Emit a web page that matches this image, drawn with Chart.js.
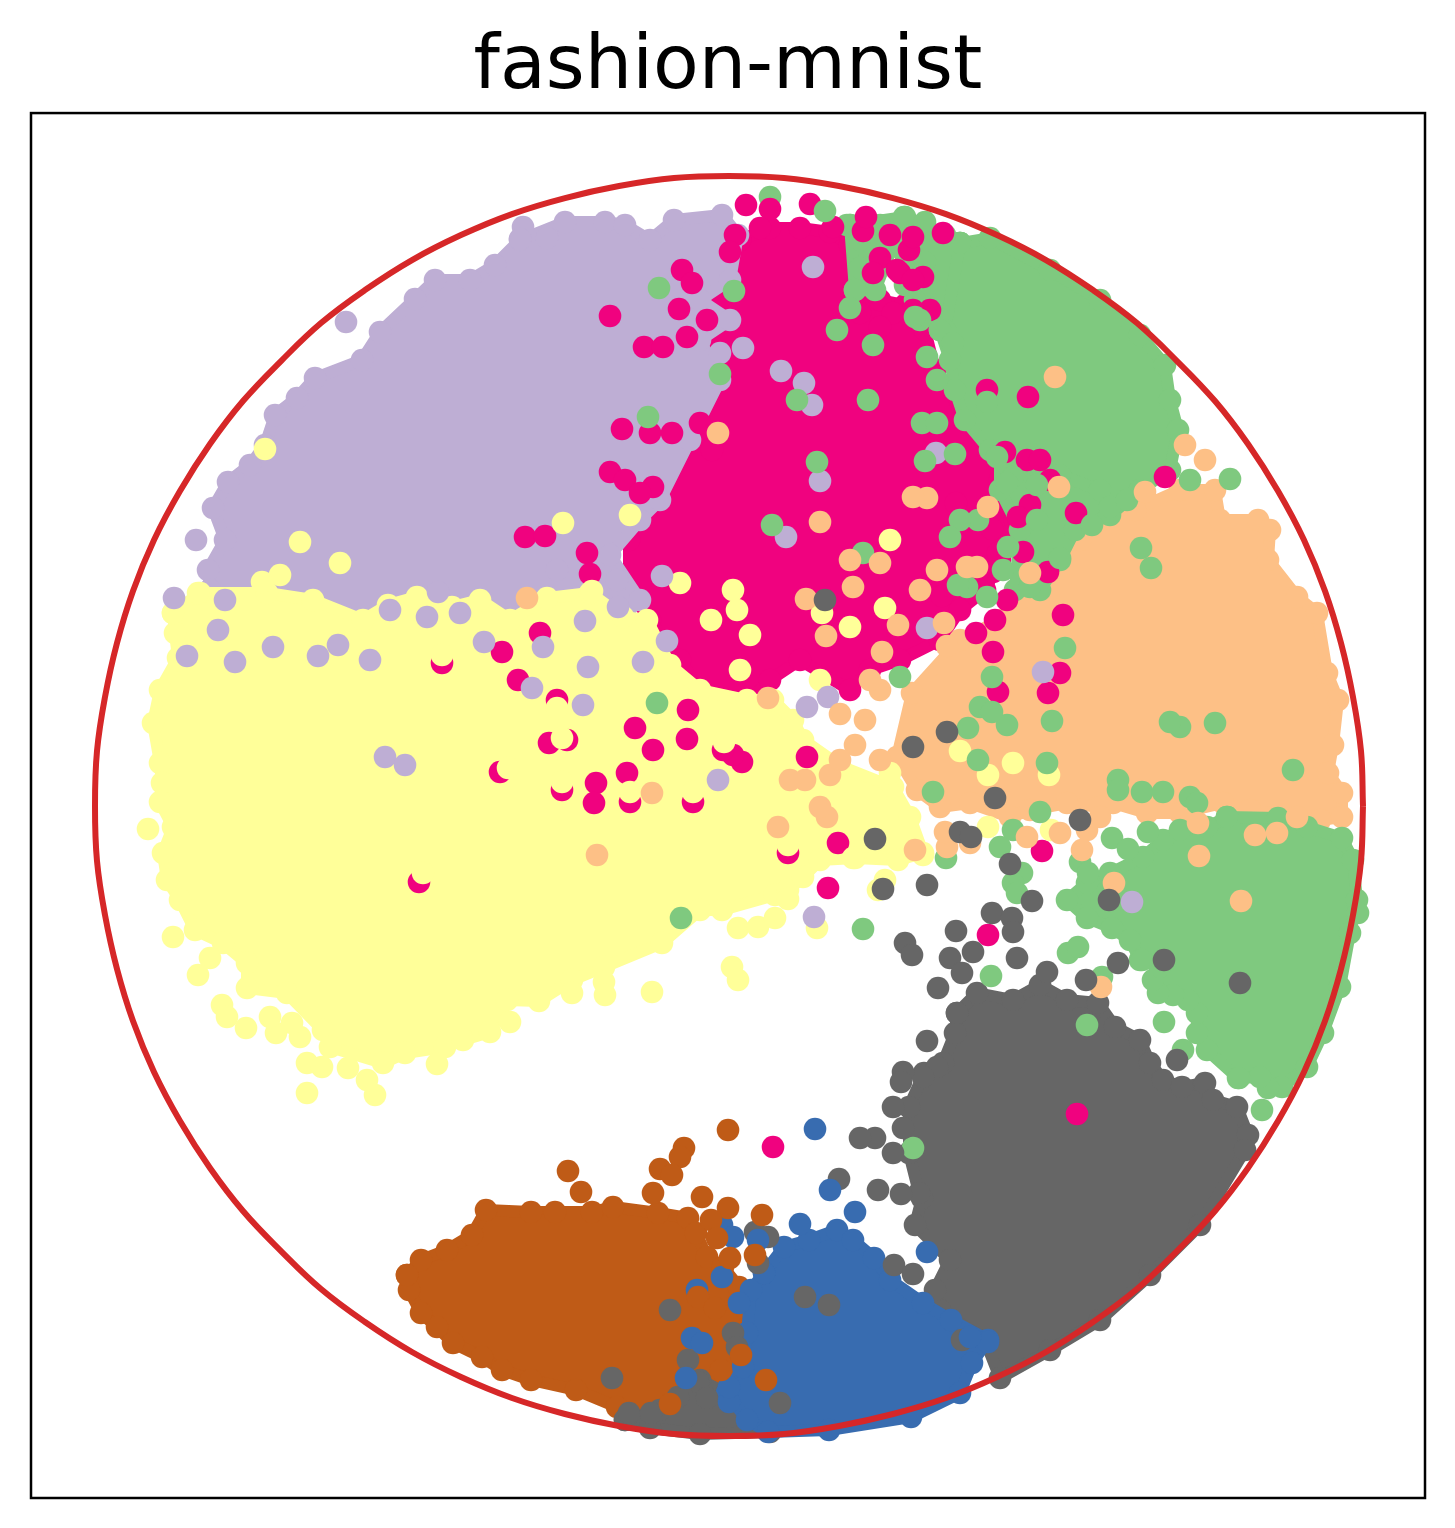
<!DOCTYPE html>
<html>
<head>
<meta charset="utf-8">
<title>fashion-mnist</title>
<script src="https://cdn.jsdelivr.net/npm/chart.js@4"></script>
<style>
  html, body { margin: 0; padding: 0; background: #fff; }
  canvas { display: block; }
</style>
</head>
<body>
<canvas id="chart" width="1455" height="1528"></canvas>
<script>
const chartTitle = 'fashion-mnist';

// outlines of the dense blobs, read around each cluster's edge
const magentaCore = [[11,566],[41,578],[71,578],[101,574],[121,561],[131,526],[151,506],[176,501],[196,476],[206,436],[231,406],[256,366],[271,326],[286,286],[271,246],[256,216],[231,196],[211,166],[171,146],[141,136],[121,116],[71,146],[41,126],[21,106],[-29,116],[-49,146],[-79,186],[-100,216],[-100,266],[-110,306],[-100,336],[-60,366],[-60,406],[-60,456],[-40,506],[-4,536]];
const purpleCore = [[-519,216],[-521,236],[-504,266],[-516,298],[-501,324],[-479,341],[-464,361],[-454,391],[-432,408],[-414,428],[-367,446],[-349,474],[-314,507],[-294,526],[-259,526],[-234,541],[-209,566],[-164,584],[-124,584],[-104,581],[-79,566],[-55,586],[-7,591],[9,571],[1,526],[-29,506],[1,486],[-29,466],[-9,426],[-39,366],[-69,306],[-89,286],[-119,251],[-89,206],[-129,166],[-189,146],[-269,166],[-349,166],[-429,166],[-499,176]];
const orangeCore = [[406,296],[451,316],[486,316],[491,286],[529,286],[541,276],[539,246],[568,209],[588,193],[598,133],[609,106],[604,61],[599,33],[613,13],[613,-11],[591,-14],[521,-4],[494,3],[451,-7],[418,-7],[384,3],[371,-1],[338,3],[301,-4],[281,-11],[241,3],[211,-1],[188,16],[168,49],[183,113],[231,166],[271,186],[311,216],[351,266],[371,286]];
const greenTopCore = [[231,563],[261,568],[321,536],[371,506],[411,471],[436,441],[441,406],[449,376],[441,336],[411,316],[371,311],[331,326],[311,346],[261,356],[236,386],[226,416],[221,446],[211,476],[196,496],[211,536]];
const greenCrownCore = [[121,581],[176,589],[231,563],[216,476],[186,506],[166,566],[146,516],[126,516]];
const greenLowerCore = [[271,351],[331,331],[371,316],[411,316],[381,291],[346,276],[331,246],[311,216],[286,216],[291,276],[271,316]];
const yellowCore = [[-556,193],[-554,173],[-551,148],[-569,116],[-576,83],[-569,43],[-567,23],[-569,4],[-556,-21],[-566,-47],[-562,-74],[-549,-94],[-534,-124],[-506,-137],[-482,-157],[-482,-182],[-442,-187],[-406,-224],[-399,-241],[-346,-257],[-324,-247],[-284,-241],[-266,-234],[-239,-226],[-222,-194],[-190,-195],[-157,-174],[-125,-161],[-67,-137],[-29,-104],[-7,-104],[46,-89],[59,-84],[74,-71],[91,-54],[126,-52],[169,-54],[194,-47],[181,-11],[164,19],[111,40],[74,66],[64,86],[44,106],[18,106],[-29,116],[-59,141],[-82,186],[-106,189],[-139,213],[-182,208],[-219,186],[-249,206],[-277,199],[-312,209],[-341,201],[-366,186],[-416,206],[-462,213],[-529,213]];
const greenRightCore = [[498,-11],[549,-12],[578,-21],[613,-32],[624,-54],[628,-94],[621,-127],[611,-181],[594,-227],[578,-261],[553,-281],[539,-282],[531,-271],[509,-272],[478,-244],[468,-227],[468,-207],[459,-194],[444,-189],[429,-187],[424,-174],[431,-161],[411,-154],[401,-134],[383,-122],[358,-112],[338,-94],[358,-77],[381,-67],[414,-51],[434,-34],[451,-24],[478,-21]];
const greyCore = [[228,-207],[248,-187],[284,-194],[311,-179],[338,-194],[369,-197],[386,-221],[411,-234],[421,-257],[434,-274],[453,-281],[476,-277],[484,-294],[508,-301],[519,-329],[516,-344],[471,-419],[421,-469],[371,-514],[321,-544],[271,-572],[256,-534],[211,-504],[206,-484],[221,-454],[186,-419],[193,-392],[190,-387],[180,-347],[180,-301],[195,-267],[214,-257],[226,-227]];
const brownCore = [[-322,-469],[-308,-454],[-282,-444],[-257,-429],[-243,-404],[-198,-406],[-174,-406],[-137,-406],[-116,-401],[-71,-407],[-41,-412],[-33,-427],[-22,-451],[-6,-461],[10,-481],[18,-504],[12,-547],[-6,-571],[-35,-594],[-59,-599],[-88,-611],[-112,-601],[-153,-584],[-198,-574],[-227,-564],[-247,-551],[-276,-537],[-292,-521],[-308,-507],[-320,-484]];
const greyBottomCore = [[-104,-614],[-69,-604],[-29,-574],[11,-594],[61,-614],[41,-626],[-29,-628],[-79,-622]];
const blueCore = [[35,-467],[55,-441],[80,-434],[108,-424],[124,-434],[145,-452],[161,-474],[194,-497],[222,-514],[259,-534],[243,-557],[231,-587],[182,-611],[100,-624],[39,-626],[18,-614],[-2,-587],[14,-561],[18,-527],[22,-484]];

// single visible points
const greenLowPoints = [[41,609],[151,581],[175,589],[196,584],[216,571],[171,561],[131,566],[151,544],[196,544],[176,521],[118,581],[126,516],[131,538]];
const magentaPoints = [[-47,536],[-37,523],[-50,497],[-85,459],[-66,459],[-42,469],[-22,486],[-119,490],[-107,377],[-204,269],[-184,270],[-142,253],[-139,232],[-119,334],[-104,326],[-57,373],[-79,373],[-17,356],[-29,383],[-76,319],[-89,313],
  [17,601],[41,597],[81,602],[134,575],[180,556],[151,548],[214,573],[171,533],[194,529],[137,589],[161,571],[184,569],[168,536],[184,526],[144,533],[201,496],[184,496],[164,493],[151,479],[131,493],[6,571],[31,578],[1,554],[104,579],
  [258,416],[299,409],[276,354],[298,346],[311,346],[347,293],[263,277],[269,253],[264,234],[319,234],[278,206],[334,191],[436,329],[301,301],[321,326],[289,289],[294,254],[227,303],
  [247,173],[264,154],[266,186],[319,113],[331,133],[269,114],[213,210],[313,-45],
  [-133,23],[-135,3],[-310,-76],[-229,34],[-167,16],[-180,63],[-162,66],[-172,106],[-287,143],[-227,154],[-211,126],[-189,173],[-102,33],[-42,67],[-41,96],[-94,78],[-76,56],[-36,4],[-99,4],[13,44],[4,51],[-6,56],[78,49],[109,-37],[99,-82],[59,-47],
  [348,-308],[44,-341],[259,-129]];
const yellowPoints = [[-581,-23],[-556,-131],[-519,-152],[-531,-169],[-507,-199],[-502,-211],[-483,-222],[-453,-227],[-459,-211],[-429,-231],[-437,-217],[-422,-257],[-407,-261],[-381,-262],[-362,-274],[-422,-287],[-354,-289],[-292,-258],[-219,-216],[-125,-176],[-77,-186],[-124,-189],[-157,-187],[3,-161],[9,-174],[9,-122],[29,-121],[46,-112],[59,-93],[88,-122],[124,-52],[156,-74],[149,-84],[-531,213],
  [-49,223],[4,216],[8,196],[-18,186],[21,171],[11,136],[93,193],[121,179],[156,198],[91,126],[161,266],[231,55],[259,31],[284,43],[320,31],[259,-21],[322,-24],[161,33],[194,-49],
  [-464,357],[-449,231],[-467,224],[-99,291],[-389,243],[-429,264],[-166,283],[-137,215],
  [-306,-67],[-221,38],[-167,24],[-167,68],[-36,14],[-99,14],[-172,98],[-287,151],[59,-39],[-5,64]];
const purplePoints = [[84,539],[91,325],[75,423],[-9,453],[14,458],[57,269],[207,353],[-67,230],[83,401],[52,435],[-555,208],[-533,266],[-383,484],[-206,579],[-209,567],[-182,568],[-511,176],[-542,150],[-411,150],[-494,144],[-456,159],[-391,161],[-359,146],[-339,196],[-302,189],[-291,214],[-269,193],[-245,164],[-186,159],[-197,118],[-144,185],[-141,139],[-146,101],[-344,49],[-324,41],[-111,199],[-504,206],[-172,236],[-112,226],[-62,165],[-86,144],[-11,26],[78,99],[99,109],[198,178],[85,-111],[403,-96],[314,134]];
const greenPoints = [[96,595],[5,515],[-9,432],[-81,389],[-70,518],[43,281],[134,253],[144,461],[108,476],[121,498],[191,486],[193,383],[208,383],[196,345],[226,352],[88,344],[139,406],[68,406],[268,349],[284,329],[308,321],[238,219],[258,209],[331,248],[301,219],[363,281],[278,323],[308,286],[381,299],[398,306],[461,326],[501,327],[412,258],[422,238],[263,129],[323,85],[278,81],[251,99],[263,94],[239,78],[486,83],[451,79],[441,84],[564,36],[413,14],[434,14],[461,9],[468,3],[389,26],[389,16],[204,14],[249,46],[318,43],[311,-6],[284,-24],[271,-41],[383,-32],[399,-43],[419,-26],[336,158],[171,129],[229,221],[351,-56],[359,-67],[217,-52],[293,-67],[284,-77],[288,-87],[339,-147],[349,-141],[413,-154],[435,-216],[454,-244],[533,-304],[510,-272],[262,-170],[373,-171],[358,-219],[184,-342],[134,-123],[629,-107],[-48,-112],[-72,103],
  [198,449],[208,426],[186,489],[258,404],[211,476],[224,463],[249,286],[231,286],[221,269],[279,259],[274,236]];
const orangePoints = [[476,346],[416,314],[330,319],[326,429],[91,284],[-11,373],[198,308],[259,299],[169,181],[301,233],[248,239],[151,116],[136,86],[126,61],[151,46],[141,126],[77,207],[97,170],[153,154],[39,108],[111,92],[215,183],[218,160],[49,-21],[98,-11],[91,-1],[76,26],[101,31],[111,46],[61,26],[331,-27],[298,-31],[358,-24],[353,-44],[371,-11],[218,-41],[241,-37],[216,-26],[186,-44],[469,-17],[548,-27],[526,-29],[568,-11],[470,-50],[512,-95],[385,-77],[372,-181],[456,361],[-77,13],[-132,-49],[-202,208],
  [184,309],[238,239],[121,246],[151,243],[124,219],[208,236],[191,216]];
const greyPoints = [[218,74],[266,8],[184,59],[351,-14],[231,-26],[242,-31],[281,-58],[198,-79],[154,-83],[146,-33],[96,206],[176,-137],[183,-149],[227,-125],[244,-146],[263,-107],[283,-112],[284,-126],[303,-95],[221,-152],[233,-167],[209,-182],[288,-152],[318,-166],[357,-174],[389,-157],[198,-235],[146,-332],[131,-332],[149,-384],[172,-388],[110,-373],[448,-254],[174,-322],[208,-261],[194,-271],[174,-266],[164,-347],[164,-301],[172,-276],[165,-459],[184,-468],[380,-94],[435,-154],[511,-177],
  [-59,-504],[-117,-572],[76,-491],[100,-499],[26,-426],[39,-431],[29,-457],[4,-527],[8,-541],[-41,-554],[-31,-576],[-51,-591],[-100,-607],[-78,-607],[-22,-592],[51,-597],[233,-534]];
const bluePoints = [[86,-323],[101,-384],[126,-406],[71,-418],[198,-446],[-7,-419],[4,-431],[29,-434],[-7,-471],[-32,-484],[10,-497],[-37,-532],[-27,-537],[-43,-572],[0,-596],[0,-581],[259,-536],[241,-531]];
const brownPoints = [[-1,-324],[-45,-342],[-49,-351],[-69,-363],[-57,-369],[-161,-365],[-148,-386],[-76,-387],[-27,-391],[-1,-402],[33,-409],[-18,-414],[-12,-432],[1,-452],[26,-449],[37,-574],[-59,-598],[-31,-491],[-14,-502],[12,-549],[-8,-564]];

// the red boundary
const ringPoints = [[634,0],[632,55],[624,109],[612,163],[596,215],[575,266],[549,315],[519,362],[486,405],[448,445],[408,483],[364,516],[317,546],[268,571],[217,592],[164,608],[110,620],[55,628],[0,630],
  [-55,628],[-110,620],[-164,608],[-217,592],[-268,571],[-317,546],[-364,516],[-408,483],[-448,445],[-486,405],[-519,362],[-549,315],[-575,266],[-596,215],[-612,163],[-624,109],[-632,55],[-634,0],
  [-632,-55],[-624,-109],[-612,-163],[-596,-215],[-575,-266],[-549,-315],[-519,-362],[-486,-405],[-448,-445],[-408,-483],[-364,-516],[-317,-546],[-268,-571],[-217,-592],[-164,-608],[-110,-620],[-55,-628],[0,-630],
  [55,-628],[110,-620],[164,-608],[217,-592],[268,-571],[317,-546],[364,-516],[408,-483],[448,-445],[486,-405],[519,-362],[549,-315],[575,-266],[596,-215],[612,-163],[624,-109],[632,-55],[634,0]];

const GREEN = '#7fc97f', PURPLE = '#beaed4', ORANGE = '#fdc086', YELLOW = '#ffff99';
const BLUE = '#386cb0', MAGENTA = '#f0027f', BROWN = '#bf5b17', GREY = '#666666';
const POINT_RADIUS = 11.3;

function toXY(list) {
    return list.map(p => ({ x: p[0], y: p[1] }));
}

function core(list, color) {
    return {
        // repeat the first vertex so the round stroke closes the outline
        data: toXY(list.concat([list[0]])),
        showLine: true,
        fill: 'shape',
        borderColor: color,
        borderWidth: 12,
        borderJoinStyle: 'round',
        borderCapStyle: 'round',
        backgroundColor: color,
        pointBackgroundColor: color,
        pointBorderWidth: 0,
        pointRadius: POINT_RADIUS
    };
}

function points(list, color) {
    return {
        data: toXY(list),
        showLine: false,
        backgroundColor: color,
        pointBackgroundColor: color,
        pointBorderWidth: 0,
        pointRadius: POINT_RADIUS
    };
}

// listed bottom to top
const layers = [
    core(magentaCore, MAGENTA),
    core(purpleCore, PURPLE),
    core(orangeCore, ORANGE),
    core(greenTopCore, GREEN),
    core(greenLowerCore, GREEN),
    core(greenCrownCore, GREEN),
    core(yellowCore, YELLOW),
    core(greenRightCore, GREEN),
    core(greyCore, GREY),
    core(brownCore, BROWN),
    core(greyBottomCore, GREY),
    core(blueCore, BLUE),
    points(greenLowPoints, GREEN),
    points(magentaPoints, MAGENTA),
    points(yellowPoints, YELLOW),
    points(purplePoints, PURPLE),
    points(greenPoints, GREEN),
    points(orangePoints, ORANGE),
    points(greyPoints, GREY),
    points(bluePoints, BLUE),
    points(brownPoints, BROWN),
    {
        data: toXY(ringPoints),
        showLine: true,
        tension: 0.4,
        borderColor: '#d62728',
        borderWidth: 6,
        pointRadius: 0,
        fill: false
    }
];
layers.forEach((ds, i) => { ds.order = layers.length - i; });

// axes frame on all four sides
const framePlugin = {
    id: 'frame',
    afterDraw(chart) {
        const { ctx, chartArea: a } = chart;
        ctx.save();
        ctx.strokeStyle = '#000';
        ctx.lineWidth = 2.5;
        ctx.strokeRect(a.left, a.top, a.right - a.left, a.bottom - a.top);
        ctx.restore();
    }
};

new Chart(document.getElementById('chart'), {
    type: 'scatter',
    data: { datasets: layers },
    plugins: [framePlugin],
    options: {
        responsive: false,
        animation: false,
        layout: { padding: { left: 31, right: 30, bottom: 30, top: 0 } },
        plugins: {
            legend: { display: false },
            tooltip: { enabled: false },
            title: {
                display: true,
                text: chartTitle,
                color: '#000',
                font: { family: 'DejaVu Sans', size: 74.8, weight: 'normal' },
                padding: { top: 23.3, bottom: 0 }
            }
        },
        scales: {
            x: { min: -698, max: 696, display: false },
            y: { min: -692, max: 693, display: false }
        }
    }
});
</script>
</body>
</html>
